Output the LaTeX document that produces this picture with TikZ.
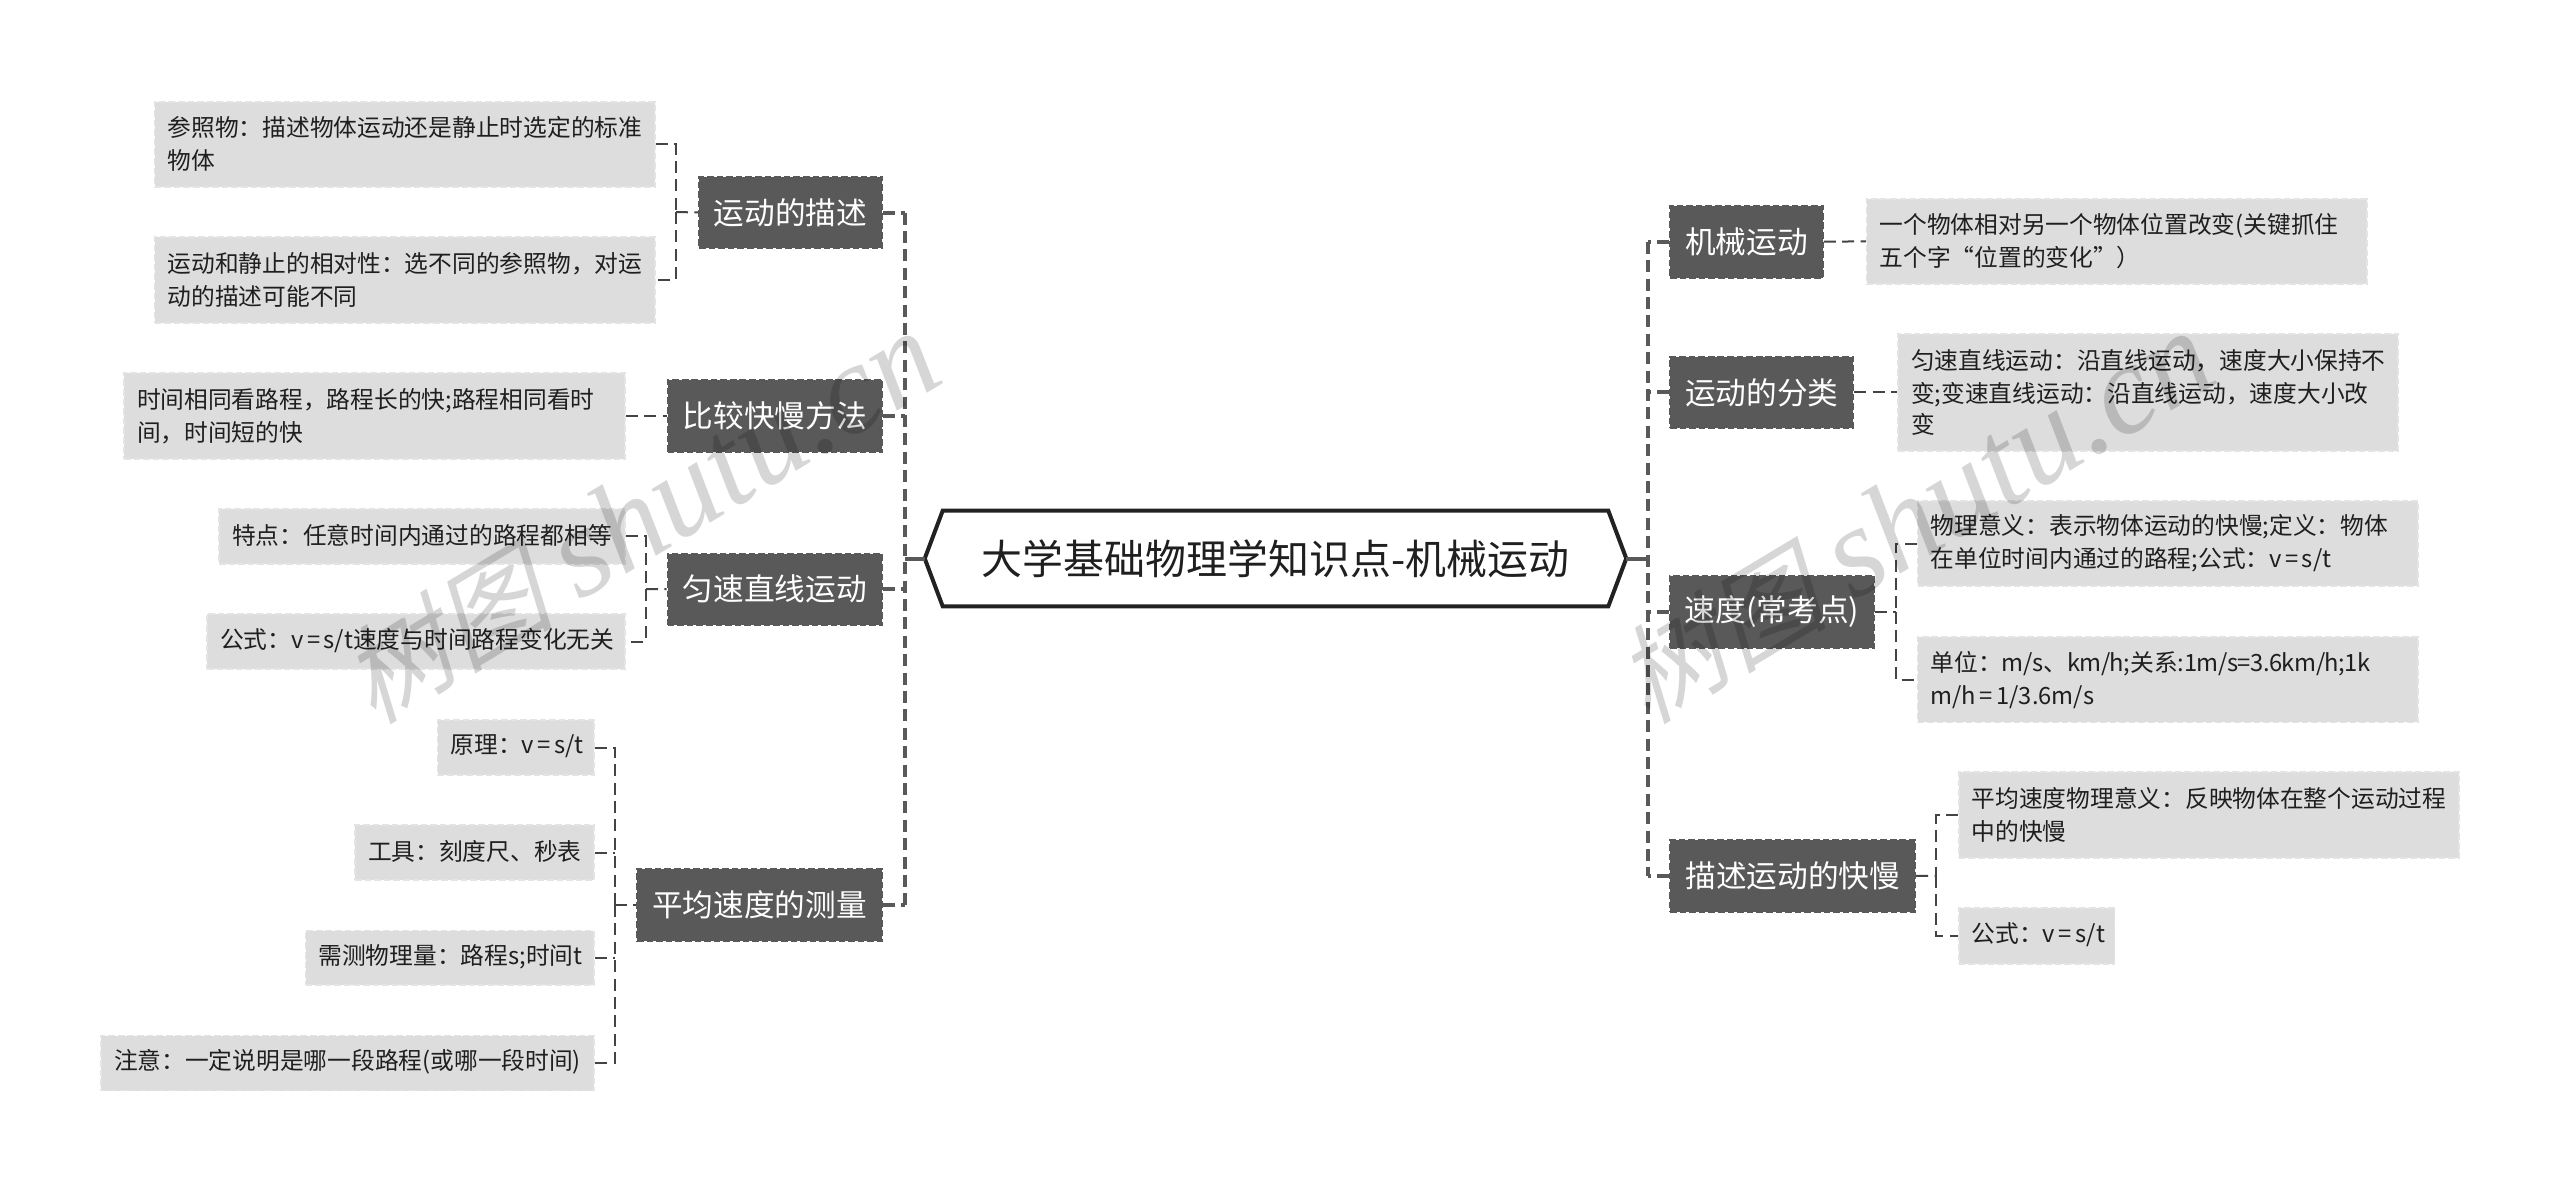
\documentclass[tikz,border=0pt]{standalone}
\usepackage{fontspec}
\usetikzlibrary{calc}
\setmainfont{Noto Sans CJK SC}
\newfontfamily\wmlatin{Liberation Serif}[ItalicFont=* Italic]
\newfontfamily\wmcjk[FakeSlant=0.25]{Noto Sans CJK SC}
\definecolor{maingray}{HTML}{595959}
\definecolor{leafgray}{HTML}{DDDDDD}
\definecolor{leafedge}{HTML}{E4E4E4}
\definecolor{linegray}{HTML}{444444}
\definecolor{rootline}{HTML}{222222}
\definecolor{wmgray}{HTML}{D6D6D6}
\newcommand{\eqk}{\kern2.6pt=\kern2.6pt}
\newcommand{\tight}[1]{{\addfontfeature{LetterSpace=-2}#1}}
\tikzset{
  topicbox/.style={rectangle,fill=maingray,draw=maingray,line width=1.2pt,dash pattern=on 5pt off 2.2pt,text=white,
    inner sep=0pt,font=\fontsize{23pt}{28pt}\selectfont},
  leafbox/.style={rectangle,fill=leafgray,draw=leafedge,line width=1.2pt,dash pattern=on 5pt off 2.2pt,text=black!88,
    inner xsep=9.75pt,inner ysep=0pt,align=left,font=\fontsize{17.8pt}{23.25pt}\selectfont},
  rootbox/.style={rectangle,inner sep=0pt,text=black!88,font=\fontsize{30.7pt}{38pt}\selectfont},
  rootedge/.style={draw=rootline,line width=3pt,fill=white,line join=miter},
  rootstub/.style={draw=maingray,line width=3pt},
  mainlink/.style={draw=maingray,line width=3pt,dash pattern=on 9pt off 4.8pt},
  sublink/.style={draw=linegray,line width=1.5pt,dash pattern=on 9pt off 4.8pt},
  watermark/.style={text=wmgray,blend mode=multiply,rotate=31,inner sep=0pt,font=\fontsize{96pt}{100pt}\selectfont},
}
\newcommand{\wmtext}{{\fontsize{80pt}{100pt}\selectfont\wmcjk 树图}\kern20pt{\wmlatin\itshape shutu.cn}}
\newcommand{\topicnode}[6][]{%
  \pgfmathsetmacro{\bw}{(#4-#2)*0.75}\pgfmathsetmacro{\bh}{(#5-#3)*0.75}%
  \pgfmathsetmacro{\cx}{(#4+#2)/2}\pgfmathsetmacro{\cy}{(#5+#3)/2}%
  \node[topicbox,minimum width=\bw pt,minimum height=\bh pt] (#1) at (\cx,\cy) {\raisebox{-0.8pt}{#6}};}
\newcommand{\leafnode}[6][]{%
  \pgfmathsetmacro{\bw}{(#4-#2)*0.75-19.5}\pgfmathsetmacro{\bh}{(#5-#3)*0.75}%
  \pgfmathsetmacro{\cx}{(#4+#2)/2}\pgfmathsetmacro{\cy}{(#5+#3)/2}%
  \node[leafbox,text width=\bw pt,minimum height=\bh pt] (#1) at (\cx,\cy) {\vspace*{1.5pt}#6};}
\begin{document}
\begin{tikzpicture}[x=0.75pt,y=-0.75pt]
\fill[white] (0,0) rectangle (2560,1192);
\useasboundingbox (0,0) rectangle (2560,1192);
% root
\node[rootbox,minimum width=525.75pt,minimum height=71.5pt] (root) at (1275.5,558.5) {};
\draw[rootedge] (root.west) -- ($(root.north west)+(18,0)$) -- ($(root.north east)+(-18,0)$) -- (root.east)
  -- ($(root.south east)+(-18,0)$) -- ($(root.south west)+(18,0)$) -- cycle;
\node[rootbox] (roottext) at (root.center) {大学基础物理学知识点-机械运动};
% left topics
\topicnode[ma]{699}{177}{882}{248}{运动的描述}
\topicnode[mb]{667.5}{380}{882}{452}{比较快慢方法}
\topicnode[mc]{667.5}{553.5}{882}{625}{匀速直线运动}
\topicnode[md]{637}{869}{882}{941}{平均速度的测量}
% left leaves
\leafnode[a1]{154.6}{101.7}{655}{187}{参照物：描述物体运动还是静止时选定的标准\\物体}
\leafnode[a2]{154.6}{237}{655}{323}{运动和静止的相对性：选不同的参照物，对运\\动的描述可能不同}
\leafnode[b1]{124}{373}{625}{459}{时间相同看路程，路程长的快;路程相同看时\\间，时间短的快}
\leafnode[c1]{219}{509}{625}{563.7}{特点：任意时间内通过的路程都相等}
\leafnode[c2]{207}{614}{625}{669}{公式：v\eqk s/t速度与时间路程变化无关}
\leafnode[d1]{437.6}{720}{594}{775}{原理：v\eqk s/t}
\leafnode[d2]{355}{825}{594}{880}{工具：刻度尺、秒表}
\leafnode[d3]{305.5}{930.6}{594}{985}{需测物理量：路程s;时间t}
\leafnode[d4]{101}{1035.5}{594}{1090.6}{注意：一定说明是哪一段路程(或哪一段时间)}
% right topics
\topicnode[me]{1670}{205.7}{1823}{277.7}{机械运动}
\topicnode[mf]{1670}{356.7}{1853.4}{428}{运动的分类}
\topicnode[mg]{1670}{575.7}{1874}{647.7}{速度(常考点)}
\topicnode[mh]{1670}{840}{1915.4}{911.7}{描述运动的快慢}
% right leaves
\leafnode[e1]{1866.6}{198.7}{2367}{284}{一个物体相对另一个物体位置改变(关键抓住\\五个字“位置的变化”）}
\leafnode[f1]{1898}{334}{2398}{450.7}{匀速直线运动：沿直线运动，速度大小保持不\\变;变速直线运动：沿直线运动，速度大小改\\变}
\leafnode[g1]{1917.6}{501}{2418}{586}{物理意义：表示物体运动的快慢;定义：物体\\在单位时间内通过的路程;公式：v\eqk s/t}
\leafnode[g2]{1917.6}{637}{2418}{722.3}{单位：\tight{m/s}、\tight{km/h;}关系\tight{:1m/s=3.6km/h;1k}\\m/h\eqk 1/3.6m/s}
\leafnode[h1]{1958.7}{772}{2459}{858}{平均速度物理意义：反映物体在整个运动过程\\中的快慢}
\leafnode[h2]{1958.7}{908}{2114.5}{963.7}{公式：v\eqk s/t}
% bus positions
\coordinate (busL) at (904.5,558.5);
\coordinate (busR) at (1647.7,558.5);
\coordinate (busA) at (676,212);
\coordinate (busC) at (646,589);
\coordinate (busD) at (615,905);
\coordinate (busG) at (1896,611.7);
\coordinate (busH) at (1936,875.8);
% main connectors
\draw[rootstub] (root.west) -- (busL);
\draw[rootstub] (root.east) -- (busR);
\draw[mainlink] (ma.east -| busL) -- (md.east -| busL);
\draw[mainlink] (me.west -| busR) -- (mh.west -| busR);
\foreach \n in {ma,mb,mc,md} {\draw[mainlink] (\n.east) -- (\n.east -| busL);}
\foreach \n in {me,mf,mg,mh} {\draw[mainlink] (\n.west) -- (\n.west -| busR);}
% sub connectors
\draw[sublink] (a1.east) -| (busA) (busA) |- (a2.east);
\draw[sublink] (busA) -- (ma.west);
\draw[sublink] (b1.east) -- (mb.west);
\draw[sublink] (c1.east) -| (busC) (busC) |- (c2.east);
\draw[sublink] (busC) -- (mc.west);
\draw[sublink] (d1.east) -| (busD) (busD) |- (d4.east);
\draw[sublink] (d2.east) -- (d2.east -| busD);
\draw[sublink] (d3.east) -- (d3.east -| busD);
\draw[sublink] (busD) -- (md.west);
\draw[sublink] (me.east) -- (e1.west);
\draw[sublink] (mf.east) -- (f1.west);
\draw[sublink] (mg.east) -- (busG);
\draw[sublink] (g1.west) -| (busG) (busG) |- (g2.west);
\draw[sublink] (mh.east) -- (busH);
\draw[sublink] (h1.west) -| (busH) (busH) |- (h2.west);
% watermarks
\node[watermark] (wm1) at (640,518) {\wmtext};
\node[watermark] (wm2) at (1914,518) {\wmtext};
\end{tikzpicture}
\end{document}
